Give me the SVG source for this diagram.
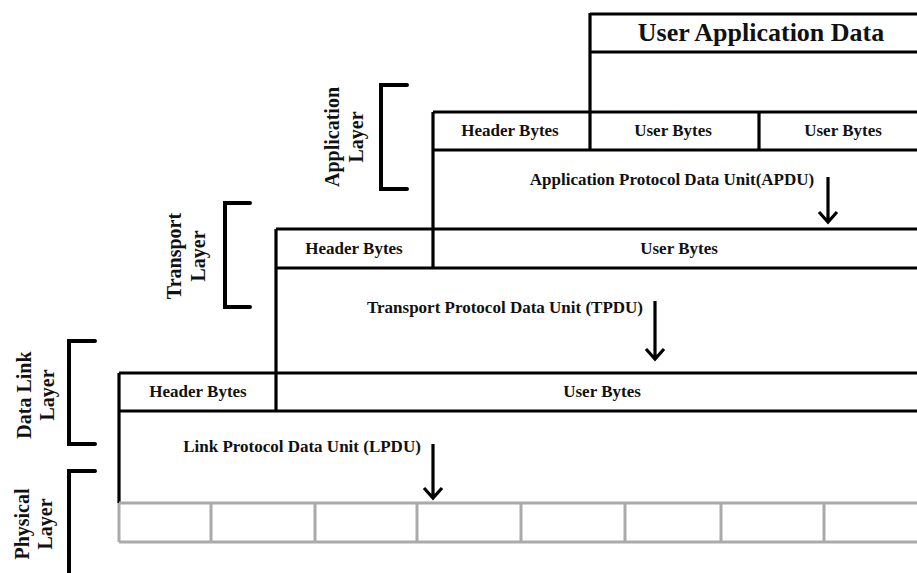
<svg xmlns="http://www.w3.org/2000/svg" width="917" height="573" viewBox="0 0 917 573">
<defs>
<style>
.k{stroke:#000;stroke-width:3.2;fill:none}
.g{stroke:#aaa;stroke-width:3;fill:none}
.br{stroke:#000;stroke-width:4;fill:none;stroke-linecap:round;stroke-linejoin:miter}
.ar{stroke:#000;stroke-width:3.2;fill:none;stroke-linejoin:miter}
text{font-family:"Liberation Serif","Times New Roman",serif;font-weight:bold;fill:#111}
.s{font-size:17px;text-anchor:middle}
.l{font-size:20px;text-anchor:middle}
.t{font-size:26px;text-anchor:middle}
</style>
</defs>
<rect width="917" height="573" fill="#fff"/>
<g id="frames">
<g id="user-data">
<path class="k" d="M590,14H917M590,52H917M590,13V150"/>
<text class="t" x="761" y="41">User Application Data</text>
</g>
<g id="application-pdu">
<path class="k" d="M433,112H917M433,150H917M759,112V150M433,112V268"/>
<text class="s" x="510" y="136">Header Bytes</text>
<text class="s" x="673" y="136">User Bytes</text>
<text class="s" x="843" y="136">User Bytes</text>
<text class="s" x="672" y="185">Application Protocol Data Unit(APDU)</text>
</g>
<g id="transport-pdu">
<path class="k" d="M276,229H917M276,268H917M276,229V411"/>
<text class="s" x="354" y="254">Header Bytes</text>
<text class="s" x="679" y="254">User Bytes</text>
<text class="s" x="505" y="313">Transport Protocol Data Unit (TPDU)</text>
</g>
<g id="link-pdu">
<path class="k" d="M119,373H917M119,411H917M119,373V503"/>
<text class="s" x="198" y="397">Header Bytes</text>
<text class="s" x="602" y="397">User Bytes</text>
<text class="s" x="302" y="452">Link Protocol Data Unit (LPDU)</text>
</g>
<g id="physical">
<path class="g" d="M119,503H917M119,542H917M119,503V542M211,503V542M315,503V542M417,503V542M521,503V542M625,503V542M721,503V542M824,503V542"/>
</g>
</g>
<g id="layers">
<g id="application-layer">
<path class="br" d="M407,85H381V189H407"/>
<text class="l" transform="rotate(-90)" x="-137" y="339">Application</text>
<text class="l" transform="rotate(-90)" x="-137" y="363">Layer</text>
</g>
<g id="transport-layer">
<path class="br" d="M250,203H225V307H250"/>
<text class="l" transform="rotate(-90)" x="-256" y="181">Transport</text>
<text class="l" transform="rotate(-90)" x="-256" y="205">Layer</text>
</g>
<g id="datalink-layer">
<path class="br" d="M95,341H69V444H95"/>
<text class="l" transform="rotate(-90)" x="-395" y="31">Data Link</text>
<text class="l" transform="rotate(-90)" x="-395" y="54">Layer</text>
</g>
<g id="physical-layer">
<path class="br" d="M95,471H69V580"/>
<text class="l" transform="rotate(-90)" x="-524" y="29">Physical</text>
<text class="l" transform="rotate(-90)" x="-524" y="52">Layer</text>
</g>
</g>
<g id="connectors">
<path class="ar" d="M828,177V222M819,212L828,222L837,212"/>
<path class="ar" d="M655,301V359M646,349L655,359L664,349"/>
<path class="ar" d="M433,444V498M424,488L433,498L442,488"/>
</g>
</svg>
